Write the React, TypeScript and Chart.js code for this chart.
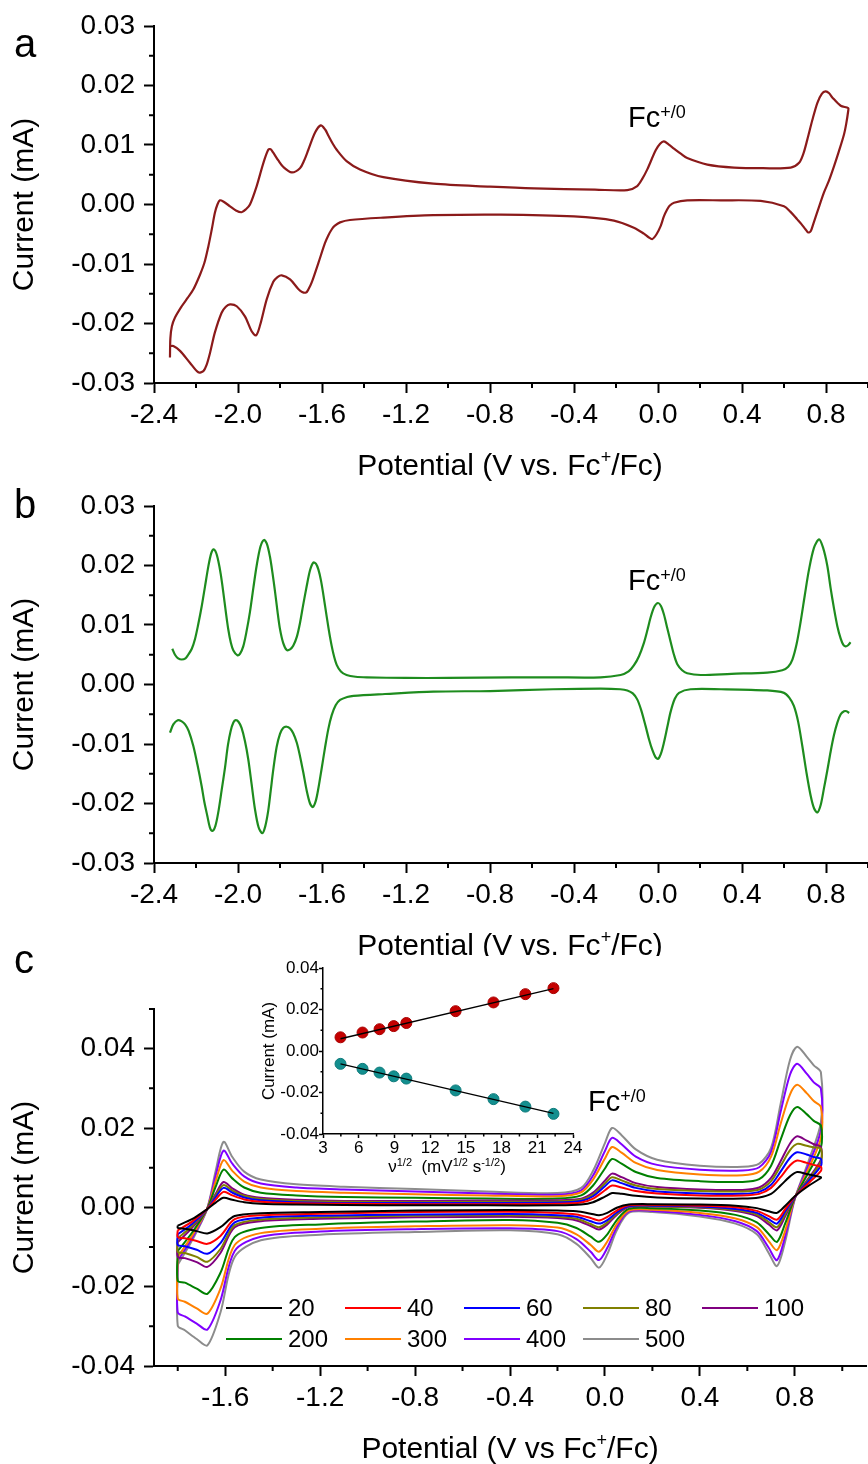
import React, { useEffect, useRef } from 'react';
import { Chart, registerables } from 'chart.js';

Chart.register(...registerables);

const FONT = "'Liberation Sans', Arial, Helvetica, sans-serif";
Chart.defaults.font.family = FONT;
Chart.defaults.color = '#000';

// ---------------- Panel a : CV (V vs Fc+/Fc, mA) ----------------
const aFwdPotential = [
  -2.324, -2.322, -2.315, -2.300, -2.268, -2.240, -2.213, -2.181, -2.160, -2.141,
  -2.125, -2.110, -2.098, -2.086, -2.070, -2.038, -2.010, -1.983, -1.962, -1.943,
  -1.911, -1.879, -1.856, -1.845, -1.832, -1.808, -1.784, -1.744, -1.705, -1.685,
  -1.665, -1.633, -1.606, -1.585, -1.570, -1.550, -1.530, -1.483, -1.419, -1.308,
  -1.070, -0.800, -0.590, -0.300, -0.146, -0.099, -0.075, -0.051, -0.011, 0.010,
  0.028, 0.050, 0.076, 0.110, 0.139, 0.235, 0.362, 0.500, 0.632, 0.672,
  0.692, 0.711, 0.735, 0.759, 0.780, 0.798, 0.815, 0.830, 0.870, 0.906,
];
const aFwdCurrent = [
  -0.0257, -0.0225, -0.0205, -0.0190, -0.0171, -0.0157, -0.0143, -0.0118, -0.0098, -0.0070,
  -0.0042, -0.0014, 0.0000, 0.0007, 0.0005, -0.0003, -0.0010, -0.0013, -0.0008, 0.0000,
  0.0031, 0.0070, 0.0092, 0.0093, 0.0087, 0.0074, 0.0063, 0.0054, 0.0061, 0.0074,
  0.0092, 0.0121, 0.0133, 0.0126, 0.0116, 0.0103, 0.0092, 0.0073, 0.0059, 0.0046,
  0.0035, 0.0030, 0.0027, 0.0025, 0.0024, 0.0031, 0.0043, 0.0059, 0.0091, 0.0102,
  0.0106, 0.0101, 0.0094, 0.0085, 0.0078, 0.0067, 0.0062, 0.0061, 0.0062, 0.0070,
  0.0085, 0.0109, 0.0142, 0.0171, 0.0186, 0.0190, 0.0187, 0.0180, 0.0166, 0.0162,
];
const aRevPotential = [
  0.906, 0.896, 0.886, 0.862, 0.838, 0.814, 0.790, 0.759, 0.740, 0.727,
  0.715, 0.703, 0.683, 0.663, 0.630, 0.600, 0.489, 0.300, 0.139, 0.076,
  0.055, 0.044, 0.028, 0.013, -0.007, -0.027, -0.045, -0.067, -0.115, -0.210,
  -0.400, -0.750, -1.070, -1.308, -1.467, -1.514, -1.540, -1.554, -1.570, -1.586,
  -1.617, -1.649, -1.665, -1.676, -1.695, -1.713, -1.752, -1.792, -1.812, -1.832,
  -1.863, -1.895, -1.914, -1.935, -1.967, -2.006, -2.038, -2.058, -2.078, -2.110,
  -2.133, -2.150, -2.165, -2.189, -2.229, -2.276, -2.308, -2.324,
];
const aRevCurrent = [
  0.0158, 0.0135, 0.0118, 0.0090, 0.0064, 0.0040, 0.0020, -0.0012, -0.0032, -0.0045,
  -0.0047, -0.0042, -0.0033, -0.0025, -0.0012, -0.0003, 0.0006, 0.0007, 0.0007, 0.0003,
  -0.0002, -0.0008, -0.0020, -0.0036, -0.0050, -0.0058, -0.0055, -0.0049, -0.0039, -0.0027,
  -0.0020, -0.0017, -0.0018, -0.0022, -0.0026, -0.0030, -0.0036, -0.0042, -0.0052, -0.0065,
  -0.0098, -0.0131, -0.0143, -0.0148, -0.0147, -0.0142, -0.0126, -0.0119, -0.0122, -0.0130,
  -0.0159, -0.0203, -0.0220, -0.0213, -0.0188, -0.0171, -0.0168, -0.0172, -0.0182, -0.0215,
  -0.0249, -0.0270, -0.0280, -0.0282, -0.0266, -0.0246, -0.0238, -0.0238,
];

// ---------------- Panel b : DPV ----------------
const bFwdPotential = [
  -2.313, -2.300, -2.285, -2.268, -2.250, -2.237, -2.220, -2.205, -2.190, -2.173,
  -2.157, -2.141, -2.128, -2.117, -2.105, -2.094, -2.082, -2.070, -2.058, -2.046,
  -2.034, -2.022, -2.003, -1.990, -1.975, -1.960, -1.943, -1.927, -1.911, -1.893,
  -1.876, -1.862, -1.848, -1.836, -1.824, -1.812, -1.800, -1.785, -1.768, -1.752,
  -1.737, -1.720, -1.705, -1.690, -1.673, -1.657, -1.641, -1.629, -1.617, -1.605,
  -1.594, -1.578, -1.562, -1.546, -1.530, -1.510, -1.483, -1.440, -1.387, -1.200,
  -1.000, -0.700, -0.500, -0.273, -0.178, -0.140, -0.115, -0.090, -0.067, -0.050,
  -0.035, -0.017, 0.000, 0.014, 0.028, 0.044, 0.060, 0.076, 0.092, 0.115,
  0.139, 0.203, 0.350, 0.520, 0.592, 0.620, 0.640, 0.660, 0.679, 0.699,
  0.719, 0.743, 0.767, 0.786, 0.806, 0.822, 0.838, 0.854, 0.870, 0.882,
  0.893, 0.905, 0.917,
];
const bFwdCurrent = [
  0.0060, 0.0050, 0.0044, 0.0042, 0.0044, 0.0050, 0.0060, 0.0076, 0.0100, 0.0131,
  0.0165, 0.0199, 0.0220, 0.0227, 0.0222, 0.0208, 0.0185, 0.0155, 0.0122, 0.0092,
  0.0070, 0.0057, 0.0049, 0.0052, 0.0064, 0.0088, 0.0122, 0.0162, 0.0200, 0.0232,
  0.0243, 0.0236, 0.0215, 0.0188, 0.0157, 0.0123, 0.0093, 0.0070, 0.0058, 0.0059,
  0.0065, 0.0080, 0.0103, 0.0133, 0.0165, 0.0192, 0.0205, 0.0203, 0.0193, 0.0175,
  0.0152, 0.0115, 0.0080, 0.0052, 0.0033, 0.0022, 0.0016, 0.0013, 0.0012, 0.0011,
  0.0011, 0.0012, 0.0012, 0.0012, 0.0016, 0.0022, 0.0032, 0.0048, 0.0070, 0.0092,
  0.0113, 0.0131, 0.0137, 0.0132, 0.0118, 0.0095, 0.0072, 0.0050, 0.0034, 0.0024,
  0.0019, 0.0016, 0.0018, 0.0020, 0.0024, 0.0030, 0.0042, 0.0068, 0.0105, 0.0150,
  0.0193, 0.0230, 0.0244, 0.0230, 0.0200, 0.0162, 0.0128, 0.0098, 0.0077, 0.0067,
  0.0064, 0.0066, 0.0071,
];
const bRevPotential = [
  -2.324, -2.308, -2.287, -2.268, -2.252, -2.235, -2.213, -2.193, -2.173, -2.160,
  -2.146, -2.134, -2.122, -2.108, -2.094, -2.078, -2.062, -2.048, -2.035, -2.022,
  -2.011, -1.997, -1.983, -1.967, -1.951, -1.935, -1.919, -1.902, -1.884, -1.870,
  -1.856, -1.844, -1.832, -1.816, -1.800, -1.785, -1.768, -1.752, -1.737, -1.720,
  -1.705, -1.689, -1.673, -1.657, -1.644, -1.630, -1.617, -1.602, -1.586, -1.570,
  -1.554, -1.535, -1.514, -1.480, -1.450, -1.300, -1.070, -0.800, -0.500, -0.273,
  -0.180, -0.146, -0.120, -0.099, -0.080, -0.059, -0.043, -0.027, -0.012, 0.000,
  0.014, 0.028, 0.044, 0.060, 0.080, 0.100, 0.155, 0.300, 0.520, 0.600,
  0.625, 0.647, 0.667, 0.687, 0.707, 0.727, 0.743, 0.759, 0.775, 0.790,
  0.806, 0.822, 0.838, 0.854, 0.870, 0.886, 0.898, 0.910,
];
const bRevCurrent = [
  -0.0081, -0.0067, -0.0060, -0.0062, -0.0067, -0.0078, -0.0103, -0.0135, -0.0171, -0.0198,
  -0.0221, -0.0240, -0.0246, -0.0238, -0.0215, -0.0178, -0.0140, -0.0102, -0.0078, -0.0064,
  -0.0060, -0.0063, -0.0073, -0.0095, -0.0126, -0.0168, -0.0210, -0.0240, -0.0250, -0.0238,
  -0.0212, -0.0178, -0.0143, -0.0105, -0.0083, -0.0073, -0.0071, -0.0074, -0.0082, -0.0098,
  -0.0120, -0.0148, -0.0178, -0.0200, -0.0206, -0.0196, -0.0174, -0.0142, -0.0107, -0.0075,
  -0.0052, -0.0035, -0.0026, -0.0021, -0.0019, -0.0016, -0.0012, -0.0011, -0.0008, -0.0007,
  -0.0008, -0.0010, -0.0015, -0.0025, -0.0043, -0.0070, -0.0092, -0.0110, -0.0122, -0.0125,
  -0.0116, -0.0098, -0.0072, -0.0046, -0.0024, -0.0014, -0.0008, -0.0008, -0.0010, -0.0014,
  -0.0022, -0.0036, -0.0062, -0.0103, -0.0148, -0.0187, -0.0208, -0.0215, -0.0202, -0.0175,
  -0.0145, -0.0113, -0.0085, -0.0064, -0.0050, -0.0045, -0.0045, -0.0048,
];

// ---------------- Panel c : scan-rate CVs ----------------
const scanRates = ['20', '40', '60', '80', '100', '200', '300', '400', '500'];
const scanColors = ['#000000', '#ff0000', '#0000ff', '#808000', '#800080', '#008000', '#ff8000', '#8000ff', '#8c8c8c'];

const cUpperPotential = [
  -1.80, -1.74, -1.677, -1.64, -1.607, -1.57, -1.52, -1.45, -1.30, -1.10,
  -0.80, -0.50, -0.20, -0.10, -0.05, 0.00, 0.03, 0.07, 0.13, 0.22,
  0.40, 0.58, 0.65, 0.70, 0.74, 0.78, 0.81, 0.85, 0.88, 0.91,
];
const cLowerPotential = [
  0.91, 0.86, 0.80, 0.76, 0.725, 0.69, 0.64, 0.55, 0.40, 0.20,
  0.10, 0.05, 0.01, -0.025, -0.06, -0.12, -0.20, -0.40, -0.80, -1.20,
  -1.45, -1.56, -1.62, -1.675, -1.72, -1.77, -1.80,
];

const cUpper20 = [-0.0046, -0.0030, -0.0005, 0.0012, 0.0024, 0.0019, 0.0013, 0.0009, 0.0007, 0.0006, 0.0005, 0.0005, 0.0005, 0.0007, 0.0013, 0.0027, 0.0036, 0.0034, 0.0029, 0.0025, 0.0022, 0.0022, 0.0025, 0.0034, 0.0055, 0.0078, 0.0089, 0.0084, 0.0080, 0.0076];
const cUpper40 = [-0.0058, -0.0036, -0.0005, 0.0020, 0.0039, 0.0030, 0.0020, 0.0014, 0.0010, 0.0009, 0.0008, 0.0008, 0.0009, 0.0012, 0.0022, 0.0043, 0.0055, 0.0050, 0.0041, 0.0035, 0.0030, 0.0030, 0.0034, 0.0049, 0.0076, 0.0106, 0.0118, 0.0112, 0.0107, 0.0102];
const cUpper60 = [-0.0068, -0.0042, -0.0005, 0.0026, 0.0049, 0.0037, 0.0025, 0.0018, 0.0013, 0.0011, 0.0011, 0.0011, 0.0012, 0.0016, 0.0028, 0.0053, 0.0068, 0.0061, 0.0049, 0.0040, 0.0035, 0.0034, 0.0039, 0.0057, 0.0090, 0.0125, 0.0139, 0.0133, 0.0127, 0.0122];
const cUpper80 = [-0.0078, -0.0047, -0.0005, 0.0030, 0.0056, 0.0042, 0.0029, 0.0021, 0.0016, 0.0014, 0.0013, 0.0014, 0.0015, 0.0019, 0.0032, 0.0060, 0.0076, 0.0068, 0.0055, 0.0046, 0.0041, 0.0040, 0.0045, 0.0066, 0.0104, 0.0144, 0.0160, 0.0155, 0.0151, 0.0148];
const cUpper100 = [-0.0088, -0.0052, -0.0005, 0.0034, 0.0064, 0.0048, 0.0032, 0.0024, 0.0019, 0.0016, 0.0016, 0.0017, 0.0018, 0.0022, 0.0037, 0.0067, 0.0085, 0.0076, 0.0061, 0.0051, 0.0045, 0.0044, 0.0050, 0.0074, 0.0116, 0.0161, 0.0179, 0.0168, 0.0159, 0.0152];
const cUpper200 = [-0.0110, -0.0064, -0.0005, 0.0052, 0.0095, 0.0073, 0.0050, 0.0037, 0.0030, 0.0026, 0.0024, 0.0022, 0.0022, 0.0030, 0.0055, 0.0098, 0.0122, 0.0110, 0.0089, 0.0074, 0.0066, 0.0064, 0.0071, 0.0105, 0.0170, 0.0232, 0.0253, 0.0235, 0.0218, 0.0206];
const cUpper300 = [-0.0125, -0.0072, -0.0005, 0.0066, 0.0119, 0.0092, 0.0065, 0.0050, 0.0041, 0.0037, 0.0033, 0.0030, 0.0028, 0.0038, 0.0070, 0.0123, 0.0152, 0.0138, 0.0112, 0.0094, 0.0083, 0.0081, 0.0090, 0.0128, 0.0210, 0.0285, 0.0309, 0.0288, 0.0268, 0.0253];
const cUpper400 = [-0.0135, -0.0078, -0.0005, 0.0080, 0.0143, 0.0110, 0.0078, 0.0060, 0.0050, 0.0045, 0.0040, 0.0035, 0.0032, 0.0043, 0.0080, 0.0142, 0.0175, 0.0159, 0.0128, 0.0107, 0.0095, 0.0093, 0.0101, 0.0140, 0.0240, 0.0335, 0.0362, 0.0337, 0.0315, 0.0299];
const cUpper500 = [-0.0145, -0.0084, -0.0005, 0.0092, 0.0165, 0.0127, 0.0090, 0.0070, 0.0058, 0.0052, 0.0046, 0.0040, 0.0036, 0.0049, 0.0092, 0.0162, 0.0200, 0.0182, 0.0146, 0.0120, 0.0105, 0.0102, 0.0110, 0.0150, 0.0260, 0.0372, 0.0405, 0.0380, 0.0358, 0.0340];

const cLower20 = [0.0074, 0.0055, 0.0028, 0.0004, -0.0014, -0.0010, -0.0002, 0.0004, 0.0007, 0.0008, 0.0007, -0.0001, -0.0014, -0.0020, -0.0016, -0.0010, -0.0008, -0.0007, -0.0008, -0.0012, -0.0015, -0.0022, -0.0050, -0.0066, -0.0060, -0.0054, -0.0052];
const cLower40 = [0.0092, 0.0062, 0.0027, -0.0004, -0.0031, -0.0022, -0.0009, 0.0000, 0.0004, 0.0006, 0.0005, -0.0008, -0.0024, -0.0033, -0.0027, -0.0018, -0.0014, -0.0011, -0.0012, -0.0016, -0.0020, -0.0030, -0.0072, -0.0092, -0.0085, -0.0078, -0.0075];
const cLower60 = [0.0105, 0.0068, 0.0026, -0.0010, -0.0041, -0.0030, -0.0014, -0.0004, 0.0002, 0.0004, 0.0003, -0.0013, -0.0032, -0.0041, -0.0035, -0.0024, -0.0020, -0.0017, -0.0018, -0.0021, -0.0026, -0.0038, -0.0090, -0.0117, -0.0107, -0.0098, -0.0095];
const cLower80 = [0.0115, 0.0072, 0.0026, -0.0016, -0.0050, -0.0037, -0.0018, -0.0007, 0.0000, 0.0003, 0.0002, -0.0016, -0.0038, -0.0050, -0.0042, -0.0029, -0.0024, -0.0020, -0.0021, -0.0025, -0.0031, -0.0045, -0.0105, -0.0137, -0.0125, -0.0115, -0.0112];
const cLower100 = [0.0120, 0.0075, 0.0025, -0.0022, -0.0058, -0.0043, -0.0022, -0.0009, -0.0001, 0.0002, 0.0001, -0.0019, -0.0043, -0.0056, -0.0047, -0.0033, -0.0027, -0.0024, -0.0025, -0.0029, -0.0035, -0.0050, -0.0115, -0.0150, -0.0138, -0.0128, -0.0125];
const cLower200 = [0.0150, 0.0090, 0.0024, -0.0040, -0.0087, -0.0067, -0.0038, -0.0019, -0.0008, -0.0002, -0.0004, -0.0032, -0.0068, -0.0087, -0.0074, -0.0052, -0.0039, -0.0032, -0.0036, -0.0043, -0.0052, -0.0075, -0.0165, -0.0218, -0.0205, -0.0190, -0.0185];
const cLower300 = [0.0175, 0.0100, 0.0023, -0.0058, -0.0108, -0.0085, -0.0050, -0.0028, -0.0014, -0.0006, -0.0008, -0.0042, -0.0086, -0.0112, -0.0095, -0.0068, -0.0051, -0.0045, -0.0048, -0.0054, -0.0065, -0.0095, -0.0205, -0.0268, -0.0255, -0.0238, -0.0230];
const cLower400 = [0.0195, 0.0110, 0.0022, -0.0072, -0.0133, -0.0102, -0.0060, -0.0035, -0.0019, -0.0009, -0.0011, -0.0050, -0.0102, -0.0133, -0.0112, -0.0080, -0.0060, -0.0053, -0.0055, -0.0061, -0.0074, -0.0110, -0.0235, -0.0308, -0.0293, -0.0275, -0.0265];
const cLower500 = [0.0215, 0.0120, 0.0021, -0.0085, -0.0148, -0.0115, -0.0068, -0.0041, -0.0023, -0.0012, -0.0014, -0.0058, -0.0118, -0.0152, -0.0128, -0.0092, -0.0068, -0.0058, -0.0062, -0.0069, -0.0083, -0.0125, -0.0265, -0.0348, -0.0332, -0.0310, -0.0298];

const cUpperByRate = [cUpper20, cUpper40, cUpper60, cUpper80, cUpper100, cUpper200, cUpper300, cUpper400, cUpper500];
const cLowerByRate = [cLower20, cLower40, cLower60, cLower80, cLower100, cLower200, cLower300, cLower400, cLower500];

// ---------------- Inset : peak current vs sqrt(scan rate) ----------------
const insetSqrtRate = [4.47, 6.32, 7.75, 8.94, 10.0, 14.14, 17.32, 20.0, 22.36];
const insetOxCurrent = [0.0066, 0.0089, 0.0105, 0.0120, 0.0135, 0.0192, 0.0234, 0.0274, 0.0303];
const insetRedCurrent = [-0.0062, -0.0086, -0.0104, -0.0122, -0.0133, -0.0190, -0.0232, -0.0268, -0.0303];
const insetFitX = [4.47, 22.36];
const insetOxFit = [0.0059, 0.0301];
const insetRedFit = [-0.0062, -0.0301];

// ---------------- Ticks ----------------
const abXTicks = [-2.4, -2.0, -1.6, -1.2, -0.8, -0.4, 0.0, 0.4, 0.8];
const abXLabels = ['-2.4', '-2.0', '-1.6', '-1.2', '-0.8', '-0.4', '0.0', '0.4', '0.8'];
const abXMinor = [-2.2, -1.8, -1.4, -1.0, -0.6, -0.2, 0.2, 0.6, 1.0];
const abYTicks = [-0.03, -0.02, -0.01, 0.0, 0.01, 0.02, 0.03];
const abYLabels = ['-0.03', '-0.02', '-0.01', '0.00', '0.01', '0.02', '0.03'];
const abYMinor = [-0.025, -0.015, -0.005, 0.005, 0.015, 0.025];

const cXTicks = [-1.6, -1.2, -0.8, -0.4, 0.0, 0.4, 0.8];
const cXLabels = ['-1.6', '-1.2', '-0.8', '-0.4', '0.0', '0.4', '0.8'];
const cXMinor = [-1.8, -1.4, -1.0, -0.6, -0.2, 0.2, 0.6, 1.0];
const cYTicks = [-0.04, -0.02, 0.0, 0.02, 0.04];
const cYLabels = ['-0.04', '-0.02', '0.00', '0.02', '0.04'];
const cYMinor = [-0.03, -0.01, 0.01, 0.03, 0.05];

const insetXTicks = [3, 6, 9, 12, 15, 18, 21, 24];
const insetXLabels = ['3', '6', '9', '12', '15', '18', '21', '24'];
const insetXMinor = [4.5, 7.5, 10.5, 13.5, 16.5, 19.5, 22.5];
const insetYTicks = [-0.04, -0.02, 0.0, 0.02, 0.04];
const insetYLabels = ['-0.04', '-0.02', '0.00', '0.02', '0.04'];
const insetYMinor = [-0.03, -0.01, 0.01, 0.03];

// ---------------- helpers ----------------
const zip = (xs: number[], ys: number[]) => xs.map((x, i) => ({ x, y: ys[i] }));

function minorTicks(xMinor: number[], yMinor: number[], len: number, w: number) {
  return {
    id: 'minorTicks',
    afterDraw(chart: any) {
      const { ctx } = chart;
      const xs = chart.scales.x;
      const ys = chart.scales.y;
      ctx.save();
      ctx.strokeStyle = '#000';
      ctx.lineWidth = w;
      ctx.beginPath();
      for (const v of xMinor) {
        const p = xs.getPixelForValue(v);
        if (p < xs.left - 1 || p > xs.right + 1) continue;
        ctx.moveTo(p, xs.top);
        ctx.lineTo(p, xs.top + len);
      }
      for (const v of yMinor) {
        const p = ys.getPixelForValue(v);
        if (p < ys.top - 1 || p > ys.bottom + 1) continue;
        ctx.moveTo(ys.right - len, p);
        ctx.lineTo(ys.right, p);
      }
      ctx.stroke();
      ctx.restore();
    },
  };
}

const gridLegend = {
  id: 'gridLegend',
  afterDraw(chart: any) {
    const { ctx, chartArea } = chart;
    ctx.save();
    ctx.font = `24px ${FONT}`;
    ctx.textBaseline = 'middle';
    ctx.textAlign = 'left';
    chart.data.datasets.forEach((ds: any, i: number) => {
      const col = i % 5;
      const row = Math.floor(i / 5);
      const x = chartArea.left + 72 + col * 119;
      const y = chartArea.top + 299 + row * 31;
      ctx.strokeStyle = ds.borderColor;
      ctx.lineWidth = 2;
      ctx.beginPath();
      ctx.moveTo(x, y);
      ctx.lineTo(x + 56, y);
      ctx.stroke();
      ctx.fillStyle = '#000';
      ctx.fillText(ds.label, x + 62, y + 1);
    });
    ctx.restore();
  },
};

function buildScales(s: any) {
  const tickFont = { family: FONT, size: s.tickSize };
  const grid = { display: true, drawOnChartArea: false, drawTicks: true, tickLength: s.tickLen, tickWidth: s.lineW, tickColor: '#000' };
  const border = { display: true, color: '#000', width: s.lineW };
  return {
    x: {
      type: 'linear',
      position: 'bottom',
      min: s.xMin,
      max: s.xMax,
      afterBuildTicks: (sc: any) => { sc.ticks = s.xTicks.map((v: number) => ({ value: v })); },
      afterFit: (sc: any) => { sc.height = s.xAxisHeight; },
      ticks: { autoSkip: false, maxRotation: 0, minRotation: 0, padding: s.xPad, color: '#000', font: tickFont, callback: (_v: any, i: number) => s.xLabels[i] },
      grid,
      border,
      title: { display: false },
    },
    y: {
      type: 'linear',
      position: 'left',
      min: s.yMin,
      max: s.yMax,
      afterBuildTicks: (sc: any) => { sc.ticks = s.yTicks.map((v: number) => ({ value: v })); },
      afterFit: (sc: any) => { sc.width = s.yAxisWidth; },
      ticks: { autoSkip: false, padding: s.yPad, color: '#000', font: tickFont, callback: (_v: any, i: number) => s.yLabels[i] },
      grid,
      border,
      title: { display: true, text: 'Current (mA)', color: '#000', font: { family: FONT, size: s.titleSize }, padding: { top: s.titlePad, bottom: 0 } },
    },
  };
}

const baseOptions = (padding: any, scales: any) => ({
  responsive: false,
  maintainAspectRatio: false,
  animation: false,
  devicePixelRatio: 1,
  events: [],
  layout: { padding },
  plugins: { legend: { display: false }, tooltip: { enabled: false } },
  scales,
});

const abScaleSpec = (xAxisHeight: number) => ({
  xMin: -2.4, xMax: 1.0, yMin: -0.03, yMax: 0.03,
  xTicks: abXTicks, xLabels: abXLabels, yTicks: abYTicks, yLabels: abYLabels,
  tickSize: 28, tickLen: 10, lineW: 2, xPad: 5, yPad: 9,
  yAxisWidth: 154, xAxisHeight, titleSize: 30, titlePad: 7,
});

const lineDs = (data: any[], color: string, width: number, label = '') => ({
  label, data, showLine: true, borderColor: color, backgroundColor: color,
  borderWidth: width, pointRadius: 0, tension: 0.3, fill: false,
});

const makePanelA = () => ({
  type: 'scatter',
  data: {
    datasets: [lineDs([...zip(aFwdPotential, aFwdCurrent), ...zip(aRevPotential, aRevCurrent)], '#8b1a1a', 2.2)],
  },
  options: baseOptions({ top: 26, left: 0, right: 0, bottom: 0 }, buildScales(abScaleSpec(97))),
  plugins: [minorTicks(abXMinor, abYMinor, 5, 2)],
});

const makePanelB = () => ({
  type: 'scatter',
  data: {
    datasets: [
      lineDs(zip(bFwdPotential, bFwdCurrent), '#1e8c1e', 2.2),
      lineDs(zip(bRevPotential, bRevCurrent), '#1e8c1e', 2.2),
    ],
  },
  options: baseOptions({ top: 26, left: 0, right: 0, bottom: 0 }, buildScales(abScaleSpec(92))),
  plugins: [minorTicks(abXMinor, abYMinor, 5, 2)],
});

const makePanelC = () => ({
  type: 'scatter',
  data: {
    datasets: scanRates.map((rate, i) =>
      lineDs(
        [...zip(cUpperPotential, cUpperByRate[i]), ...zip(cLowerPotential, cLowerByRate[i]), { x: cUpperPotential[0], y: cUpperByRate[i][0] }],
        scanColors[i], 2, rate,
      ),
    ),
  },
  options: baseOptions({ top: 53, left: 0, right: 2, bottom: 0 }, buildScales({
    xMin: -1.9, xMax: 1.1, yMin: -0.04, yMax: 0.05,
    xTicks: cXTicks, xLabels: cXLabels, yTicks: cYTicks, yLabels: cYLabels,
    tickSize: 28, tickLen: 10, lineW: 2, xPad: 5, yPad: 9,
    yAxisWidth: 154, xAxisHeight: 98, titleSize: 30, titlePad: 7,
  })),
  plugins: [minorTicks(cXMinor, cYMinor, 5, 2), gridLegend],
});

const makeInset = () => ({
  type: 'scatter',
  data: {
    datasets: [
      { data: zip(insetFitX, insetOxFit), showLine: true, borderColor: '#000', borderWidth: 1.3, pointRadius: 0, fill: false },
      { data: zip(insetFitX, insetRedFit), showLine: true, borderColor: '#000', borderWidth: 1.3, pointRadius: 0, fill: false },
      { data: zip(insetSqrtRate, insetOxCurrent), showLine: false, pointRadius: 5.5, backgroundColor: '#c40000', borderColor: '#a80000', borderWidth: 1 },
      { data: zip(insetSqrtRate, insetRedCurrent), showLine: false, pointRadius: 5.5, backgroundColor: '#138f8f', borderColor: '#0d7a7a', borderWidth: 1 },
    ],
  },
  options: baseOptions({ top: 11, left: 0, right: 12, bottom: 0 }, buildScales({
    xMin: 3, xMax: 24, yMin: -0.04, yMax: 0.04,
    xTicks: insetXTicks, xLabels: insetXLabels, yTicks: insetYTicks, yLabels: insetYLabels,
    tickSize: 17, tickLen: 4, lineW: 1.5, xPad: 0, yPad: 0,
    yAxisWidth: 83, xAxisHeight: 28, titleSize: 17, titlePad: 19,
  })),
  plugins: [minorTicks(insetXMinor, insetYMinor, 2.5, 1.5)],
});

function ChartBox({ left, top, width, height, make, bg }: any) {
  const ref = useRef<HTMLCanvasElement>(null);
  useEffect(() => {
    const chart = new Chart(ref.current as HTMLCanvasElement, make() as any);
    return () => chart.destroy();
  }, []);
  return (
    <div style={{ position: 'absolute', left, top, width, height, background: bg }}>
      <canvas ref={ref} width={width} height={height} style={{ display: 'block', width, height }} />
    </div>
  );
}

const Txt = ({ left, top, size, center, children }: any) => (
  <div
    style={{
      position: 'absolute', left, top, fontFamily: FONT, fontSize: size, lineHeight: `${size}px`,
      whiteSpace: 'nowrap', color: '#000', transform: center ? 'translateX(-50%)' : undefined,
    }}
  >
    {children}
  </div>
);

const Sup = ({ size, shift, children }: any) => (
  <span style={{ fontSize: size, position: 'relative', top: -shift, lineHeight: 0 }}>{children}</span>
);

export default function App() {
  return (
    <div style={{ position: 'absolute', left: 0, top: 0, width: 868, height: 1464, background: '#fff', overflow: 'hidden' }}>
      <ChartBox left={0} top={0} width={868} height={480} make={makePanelA} />
      <Txt left={14} top={23} size={40}>a</Txt>
      <Txt left={628} top={102.5} size={29}>Fc<Sup size={18} shift={9}>+/0</Sup></Txt>
      <Txt left={510} top={449.6} size={30} center>Potential (V vs. Fc<Sup size={18} shift={12}>+</Sup>/Fc)</Txt>

      <ChartBox left={0} top={480} width={868} height={475} make={makePanelB} />
      <Txt left={14} top={484} size={40}>b</Txt>
      <Txt left={628} top={565.5} size={29}>Fc<Sup size={18} shift={9}>+/0</Sup></Txt>
      <Txt left={510} top={929.6} size={30} center>Potential (V vs. Fc<Sup size={18} shift={12}>+</Sup>/Fc)</Txt>

      <ChartBox left={0} top={956} width={868} height={508} make={makePanelC} bg="#fff" />
      <ChartBox left={240} top={957} width={345} height={205} make={makeInset} />
      <Txt left={14} top={939} size={40}>c</Txt>
      <Txt left={588} top={1086.5} size={29}>Fc<Sup size={18} shift={9}>+/0</Sup></Txt>
      <Txt left={447} top={1157.6} size={17} center>
        ν<Sup size={11} shift={6}>1/2</Sup>{'\u00a0 '}(mV<Sup size={11} shift={6}>1/2</Sup> s<Sup size={11} shift={6}>-1/2</Sup>)
      </Txt>
      <Txt left={510} top={1432.6} size={30} center>Potential (V vs Fc<Sup size={18} shift={12}>+</Sup>/Fc)</Txt>
    </div>
  );
}
